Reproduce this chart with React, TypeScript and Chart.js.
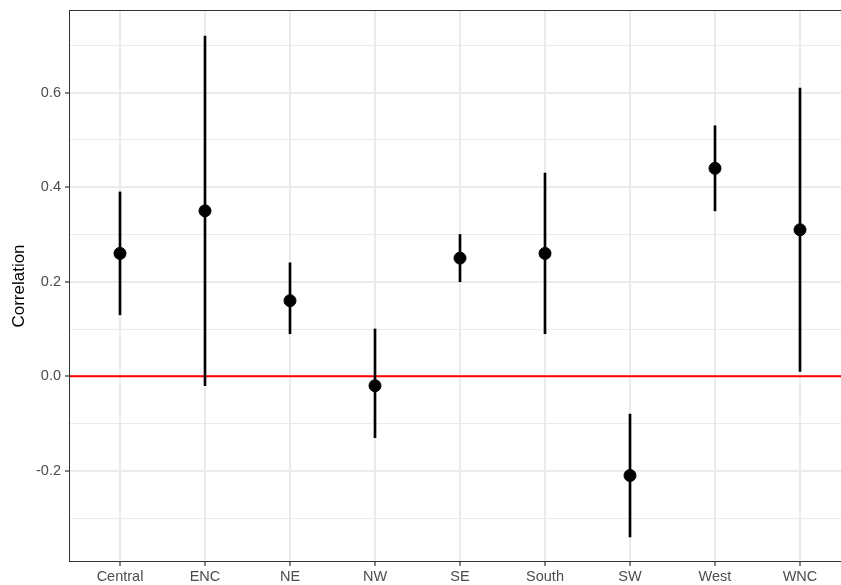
import React, { useEffect, useRef } from "react";
import { Chart, registerables } from "chart.js";

Chart.register(...registerables);

const regions = ["Central", "ENC", "NE", "NW", "SE", "South", "SW", "West", "WNC"];
const estimates = [0.26, 0.35, 0.16, -0.02, 0.25, 0.26, -0.21, 0.44, 0.31];
const lowers = [0.13, -0.02, 0.09, -0.13, 0.2, 0.09, -0.34, 0.35, 0.01];
const uppers = [0.39, 0.72, 0.24, 0.1, 0.3, 0.43, -0.08, 0.53, 0.61];
const yMajorTicks = [-0.2, 0.0, 0.2, 0.4, 0.6];
const yMinorTicks = [-0.3, -0.1, 0.1, 0.3, 0.5, 0.7];
const refLineY = 0;

const FONT = "'Liberation Sans', Arial, Helvetica, sans-serif";

const isMajor = (v: number) => yMajorTicks.some((t) => Math.abs(t - v) < 1e-9);

const borderPlugin = {
  id: "panelBorder",
  afterDraw(chart: any) {
    const { ctx, chartArea } = chart;
    ctx.save();
    ctx.strokeStyle = "#333333";
    ctx.lineWidth = 1;
    ctx.strokeRect(chartArea.left + 0.5, chartArea.top + 0.5, chartArea.right - chartArea.left - 1, chartArea.bottom - chartArea.top - 1);
    ctx.restore();
  },
};

export default function App() {
  const ref = useRef<HTMLCanvasElement | null>(null);
  useEffect(() => {
    if (!ref.current) return;
    const xMin = -0.6;
    const xMax = regions.length - 1 + 0.6;
    const chart = new Chart(ref.current, {
      type: "scatter",
      data: {
        datasets: [
          {
            type: "scatter",
            data: estimates.map((v, i) => ({ x: i, y: v })),
            backgroundColor: "#000000",
            borderColor: "#000000",
            pointRadius: 6,
            pointHoverRadius: 6,
            order: 1,
          } as any,
          {
            type: "bar",
            data: regions.map((_, i) => ({ x: i, y: [lowers[i], uppers[i]] })),
            backgroundColor: "#000000",
            barThickness: 2,
            order: 2,
          } as any,
          {
            type: "line",
            data: [
              { x: xMin, y: refLineY },
              { x: xMax, y: refLineY },
            ],
            borderColor: "#FF0000",
            borderWidth: 2,
            pointRadius: 0,
            fill: false,
            order: 3,
          } as any,
        ],
      },
      options: {
        responsive: false,
        animation: false,
        devicePixelRatio: 1,
        layout: { padding: { top: 10, right: 4, left: 0, bottom: 0 } },
        plugins: { legend: { display: false }, tooltip: { enabled: false } },
        scales: {
          x: {
            type: "linear",
            min: xMin,
            max: xMax,
            offset: false,
            afterBuildTicks: (scale: any) => {
              scale.ticks = regions.map((_, i) => ({ value: i }));
            },
            afterFit: (scale: any) => {
              scale.height = 23;
              scale.paddingLeft = 0;
              scale.paddingRight = 0;
            },
            ticks: {
              callback: (v: any) => regions[Math.round(Number(v))] ?? "",
              color: "#4D4D4D",
              font: { family: FONT, size: 14.5 },
              padding: 2,
              maxRotation: 0,
              autoSkip: false,
            },
            grid: {
              offset: false,
              color: "#EBEBEB",
              lineWidth: 2,
              tickColor: "#333333",
              tickLength: 4,
              tickWidth: 1.2,
            },
            border: { display: false },
          },
          y: {
            type: "linear",
            min: -0.393,
            max: 0.775,
            afterBuildTicks: (scale: any) => {
              scale.ticks = [...yMajorTicks, ...yMinorTicks].sort((a, b) => a - b).map((v) => ({ value: v }));
            },
            afterFit: (scale: any) => {
              scale.width = 69;
              scale.paddingTop = 0;
              scale.paddingBottom = 0;
            },
            ticks: {
              callback: (v: any) => (isMajor(Number(v)) ? Number(v).toFixed(1) : ""),
              color: "#4D4D4D",
              font: { family: FONT, size: 14.5 },
              padding: 4,
              autoSkip: false,
            },
            grid: {
              color: "#EBEBEB",
              lineWidth: (c: any) => (isMajor(c.tick?.value) ? 2 : 1),
              tickColor: (c: any) => (isMajor(c.tick?.value) ? "#333333" : "rgba(0,0,0,0)"),
              tickLength: 4,
              tickWidth: 1.2,
            },
            border: { display: false },
            title: {
              display: true,
              text: "Correlation",
              color: "#000000",
              font: { family: FONT, size: 17 },
              padding: { top: 9, bottom: 0 },
            },
          },
        },
      },
      plugins: [borderPlugin],
    } as any);
    return () => chart.destroy();
  }, []);
  return (
    <div style={{ position: "absolute", left: 0, top: 0, width: 841, height: 585, overflow: "hidden", background: "#fff" }}>
      <canvas ref={ref} width={858} height={585} style={{ display: "block" }} />
    </div>
  );
}
